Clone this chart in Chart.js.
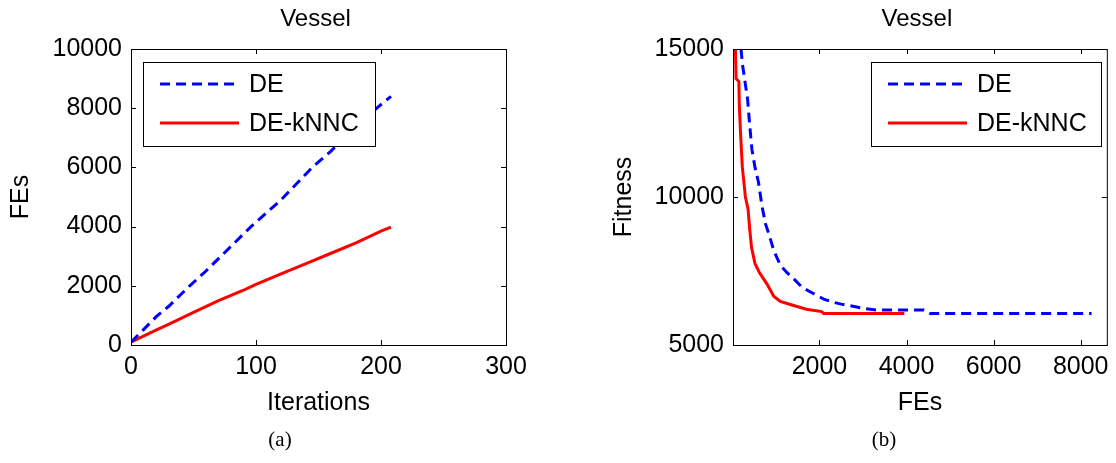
<!DOCTYPE html>
<html>
<head>
<meta charset="utf-8">
<script src="https://cdn.jsdelivr.net/npm/chart.js@4.4.0/dist/chart.umd.min.js"></script>
<style>
  html, body { margin: 0; padding: 0; background: #fff; }
  #wrap { position: relative; width: 1116px; height: 463px; overflow: hidden; }
  canvas { position: absolute; top: 0; }
  #chartA { left: 0; }
  #chartB { left: 558px; }
  .caption { position: absolute; top: 427px; width: 120px; text-align: center;
             font-family: 'Liberation Serif', 'Times New Roman', serif; font-size: 21px; color: #000; }
</style>
</head>
<body>
<div id="wrap">
  <canvas id="chartA" width="558" height="463"></canvas>
  <canvas id="chartB" width="558" height="463"></canvas>
  <div class="caption" style="left:220px">(a)</div>
  <div class="caption" style="left:824px">(b)</div>
</div>
<script>
// --- Data ---
// (a) function evaluations used per iteration
const iterDE   = [0, 10, 20, 30, 47, 60, 72, 96, 120, 145, 160, 175, 198, 208];
const fesDE    = [100, 520, 950, 1300, 2000, 2500, 3000, 4000, 4900, 6000, 6550, 7200, 8050, 8400];
const iterKNNC = [0, 10, 20, 30, 50, 70, 90, 100, 120, 140, 160, 180, 200, 208];
const fesKNNC  = [100, 300, 500, 700, 1100, 1500, 1850, 2050, 2400, 2750, 3100, 3450, 3850, 3980];

// (b) convergence: best fitness vs FEs
const convFesDE   = [200, 230, 300, 350, 400, 450, 520, 600, 680, 760, 850, 950, 1100, 1250, 1400,
                     1600, 1850, 2100, 2300, 2500, 2800, 3000, 3300, 4400, 4550, 8250];
const convFitDE   = [15000, 14500, 13800, 13300, 12400, 11600, 11000, 10500, 9700, 9100, 8700, 8200, 7700, 7450, 7250,
                     6950, 6750, 6550, 6450, 6380, 6300, 6240, 6180, 6180, 6060, 6060];
const convFesKNNC = [70, 85, 150, 160, 190, 230, 300, 360, 400, 440, 520, 620, 800, 950, 1100,
                     1350, 1700, 2050, 2100, 3950];
const convFitKNNC = [15000, 14000, 13900, 13100, 12100, 11000, 10000, 9600, 8900, 8300, 7750, 7450, 7050, 6650, 6470,
                     6360, 6210, 6130, 6060, 6060];

const seriesNames = ['DE', 'DE-kNNC'];
const plotTitle = 'Vessel';
const iterTicks = [0, 100, 200, 300];
const fesTicksA = [0, 2000, 4000, 6000, 8000, 10000];
const fesTicksB = [2000, 4000, 6000, 8000];
const fitTicks  = [5000, 10000, 15000];

const FONT = "'Liberation Sans', Arial, sans-serif";
Chart.defaults.font.family = FONT;
Chart.defaults.color = '#000';

function toPoints(xs, ys) {
    return xs.map((x, i) => ({ x: x, y: ys[i] }));
}

function lineDataset(label, xs, ys, color, dash) {
    return {
        label: label,
        data: toPoints(xs, ys),
        borderColor: color,
        borderWidth: 3,
        borderDash: dash,
        pointRadius: 0,
        fill: false,
        tension: 0
    };
}

function fixedTicks(values) {
    return scale => { scale.ticks = values.map(v => ({ value: v })); };
}

// MATLAB-like boxed axes with inward ticks, title on top
const framePlugin = {
    id: 'frame',
    afterDatasetsDraw(chart) {
        const { ctx, chartArea: a, scales } = chart;
        ctx.save();
        ctx.strokeStyle = '#000';
        ctx.lineWidth = 1;
        ctx.strokeRect(a.left + 0.5, a.top + 0.5, a.right - a.left, a.bottom - a.top);
        const len = 5;
        ctx.beginPath();
        scales.x.ticks.forEach(t => {
            const px = Math.round(scales.x.getPixelForValue(t.value)) + 0.5;
            ctx.moveTo(px, a.bottom); ctx.lineTo(px, a.bottom - len);
            ctx.moveTo(px, a.top); ctx.lineTo(px, a.top + len);
        });
        scales.y.ticks.forEach(t => {
            const py = Math.round(scales.y.getPixelForValue(t.value)) + 0.5;
            ctx.moveTo(a.left, py); ctx.lineTo(a.left + len, py);
            ctx.moveTo(a.right, py); ctx.lineTo(a.right - len, py);
        });
        ctx.stroke();

        ctx.fillStyle = '#000';
        ctx.font = '24px ' + FONT;
        ctx.textAlign = 'center';
        ctx.textBaseline = 'middle';
        ctx.fillText(chart.options.plugins.frame.title, (a.left + a.right) / 2 - 3, 19);
        ctx.restore();
    },
    afterDraw(chart) {
        const opt = chart.options.plugins.frame.legend;
        const { ctx } = chart;
        ctx.save();
        ctx.fillStyle = '#fff';
        ctx.fillRect(opt.x, opt.y, opt.w, opt.h);
        ctx.strokeStyle = '#000';
        ctx.lineWidth = 1;
        ctx.strokeRect(opt.x + 0.5, opt.y + 0.5, opt.w, opt.h);
        chart.data.datasets.forEach((ds, i) => {
            const y = opt.y + 22 + i * 39;
            ctx.strokeStyle = ds.borderColor;
            ctx.lineWidth = ds.borderWidth;
            ctx.setLineDash(ds.borderDash || []);
            ctx.beginPath();
            ctx.moveTo(opt.x + 17, y);
            ctx.lineTo(opt.x + 96, y);
            ctx.stroke();
            ctx.setLineDash([]);
            ctx.fillStyle = '#000';
            ctx.font = '25px ' + FONT;
            ctx.textAlign = 'left';
            ctx.textBaseline = 'middle';
            ctx.fillText(ds.label, opt.x + 106, y + 1);
        });
        ctx.restore();
    }
};

function axisOpts(min, max, ticks, titleText, isX, fitSize, titlePad) {
    return {
        type: 'linear',
        min: min,
        max: max,
        afterBuildTicks: fixedTicks(ticks),
        afterFit: s => { if (isX) s.height = fitSize; else s.width = fitSize; },
        grid: { display: false, drawTicks: false },
        border: { display: false },
        ticks: { font: { size: 25 }, color: '#000', padding: isX ? 7 : 9, maxRotation: 0, autoSkip: false,
                 callback: v => String(v) },
        title: { display: true, text: titleText, font: { size: 25 }, color: '#000', padding: titlePad }
    };
}

function makeChart(id, datasets, opts) {
    return new Chart(document.getElementById(id), {
        type: 'line',
        data: { datasets: datasets },
        options: {
            responsive: false,
            animation: false,
            devicePixelRatio: 1,
            layout: { padding: { left: 0, top: 49, right: opts.padRight, bottom: 0 } },
            plugins: {
                legend: { display: false },
                tooltip: { enabled: false },
                frame: { title: plotTitle, legend: opts.legend }
            },
            scales: { x: opts.x, y: opts.y }
        },
        plugins: [framePlugin]
    });
}

makeChart('chartA', [
    lineDataset(seriesNames[0], iterDE, fesDE, '#0000ff', [10, 6]),
    lineDataset(seriesNames[1], iterKNNC, fesKNNC, '#ff0000', [])
], {
    padRight: 52,
    legend: { x: 143, y: 62, w: 232, h: 84 },
    x: axisOpts(0, 300, iterTicks, 'Iterations', true, 118, { top: 0, bottom: 45 }),
    y: axisOpts(0, 10000, fesTicksA, 'FEs', false, 131, { top: 6, bottom: 0 })
});

makeChart('chartB', [
    lineDataset(seriesNames[0], convFesDE, convFitDE, '#0000ff', [10, 6]),
    lineDataset(seriesNames[1], convFesKNNC, convFitKNNC, '#ff0000', [])
], {
    padRight: 7,
    legend: { x: 313, y: 62, w: 230, h: 84 },
    x: axisOpts(15, 8600, fesTicksB, 'FEs', true, 118, { top: 0, bottom: 45 }),
    y: axisOpts(5000, 15000, fitTicks, 'Fitness', false, 175, { top: 51, bottom: 0 })
});
</script>
</body>
</html>
